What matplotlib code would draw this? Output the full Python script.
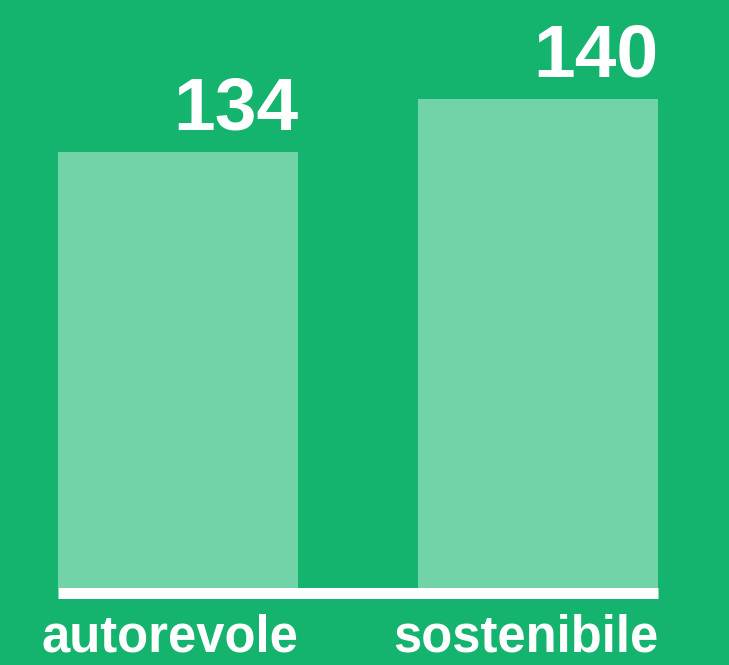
import matplotlib
matplotlib.use("Agg")
import matplotlib.pyplot as plt

categories = ["autorevole", "sostenibile"]
values = [134, 140]

bg = "#14b36e"
bar_color = "#72d2a8"

fig = plt.figure(figsize=(7.29, 6.65), dpi=100, facecolor=bg)
# axes spans full width, bottom edge at the bar baseline
ax = fig.add_axes([0, (665 - 588) / 665, 1, 588 / 665])
ax.set_facecolor(bg)

width = 240 / 360
xs = list(range(len(categories)))
ax.bar(xs, values, width=width, color=bar_color, linewidth=0)

px_per_unit = 53 / 6
ymin = values[0] - 436 / px_per_unit
ax.set_ylim(ymin, ymin + 588 / px_per_unit)
ax.set_xlim(-178 / 360, (729 - 178) / 360)
ax.axis("off")

# white baseline under the bars
ax.plot([xs[0] - width / 2, xs[-1] + width / 2], [ymin - 5.5 / px_per_unit] * 2,
        color="white", lw=11 * 72 / 100, solid_capstyle="butt", clip_on=False)

font = "Liberation Sans"
for x, v, name in zip(xs, values, categories):
    right = x + width / 2
    ax.annotate(str(v), (right, v), xytext=(0, 23), textcoords="offset pixels",
                ha="right", va="baseline", color="white", fontsize=54,
                fontweight="bold", family=font)
    ax.annotate(name, (right, ymin), xytext=(0, -64), textcoords="offset pixels",
                ha="right", va="baseline", color="white", fontsize=36.5,
                fontweight="bold", family=font, annotation_clip=False)

fig.savefig("out.png", dpi=100, facecolor=bg)
